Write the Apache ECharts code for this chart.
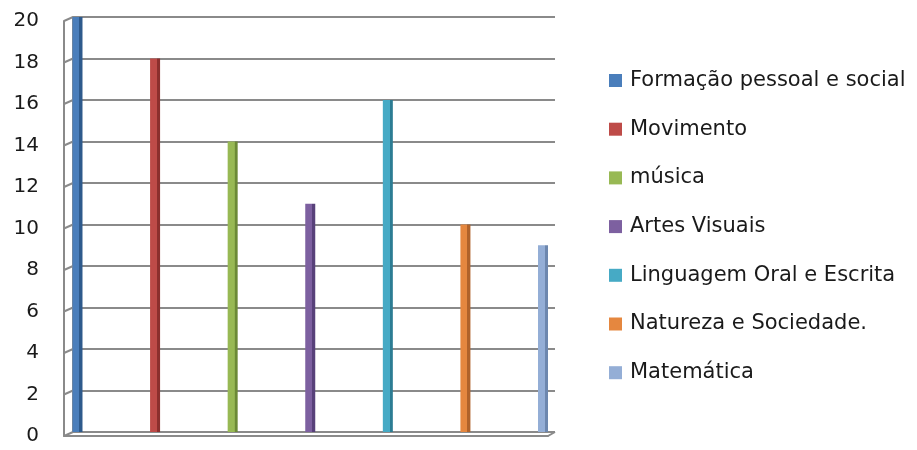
<!DOCTYPE html>
<html>
<head>
<meta charset="utf-8">
<script src="https://cdn.jsdelivr.net/npm/echarts@6/dist/echarts.min.js"></script>
<style>
  html, body { margin: 0; padding: 0; background: #fff; }
  #chart { width: 917px; height: 450px; }
</style>
</head>
<body>
<div id="chart"></div>
<script>
// Areas of learning and their counts
const categories = [
  'Formação pessoal e social',
  'Movimento',
  'música',
  'Artes Visuais',
  'Linguagem Oral e Escrita',
  'Natureza e Sociedade.',
  'Matemática'
];
const values = [20, 18, 14, 11, 16, 10, 9];
const yTicks = [0, 2, 4, 6, 8, 10, 12, 14, 16, 18, 20];

// face colour and shaded side colour for each bar
const faceColors = ['#4A7EBB', '#BE4B48', '#98B954', '#7D60A0', '#46AAC5', '#E5873F', '#94AED6'];
const sideColors = ['#2E5A8C', '#8C2F2D', '#6C8A36', '#58417A', '#2C7C93', '#B0622A', '#6D87AE'];

const FONT = '"DejaVu Sans", "Liberation Sans", sans-serif';
const Y_MIN = yTicks[0], Y_MAX = yTicks[yTicks.length - 1], Y_STEP = yTicks[1] - yTicks[0];

const chart = echarts.init(document.getElementById('chart'), null, { renderer: 'canvas' });

const series = categories.map((name, i) => ({
  name,
  type: 'bar',
  xAxisIndex: 0,
  yAxisIndex: 0,
  barWidth: 10,
  barGap: '-100%',
  data: categories.map((_, j) => (j === i ? values[i] : null)),
  itemStyle: {
    color: new echarts.graphic.LinearGradient(0, 0, 1, 0, [
      { offset: 0, color: faceColors[i] },
      { offset: 0.68, color: faceColors[i] },
      { offset: 0.7, color: sideColors[i] },
      { offset: 1, color: sideColors[i] }
    ])
  },
  emphasis: { disabled: true }
}));

chart.setOption({
  animation: false,
  backgroundColor: '#ffffff',
  legend: {
    orient: 'vertical',
    left: 609,
    top: 70,
    padding: 0,
    itemWidth: 13,
    itemHeight: 13,
    itemGap: 27.7,
    icon: 'rect',
    textStyle: { fontFamily: FONT, fontSize: 21, color: '#1a1a1a', lineHeight: 20, padding: [0, 0, 0, 3] },
    data: categories.map((name, i) => ({ name, itemStyle: { color: faceColors[i] } }))
  },
  grid: [
    // bars
    { left: 38.7, width: 543.1, top: 17, bottom: 18 },
    // back wall with gridlines
    { left: 73, right: 362, top: 17, bottom: 18 },
    // front plane: labels and front edges
    { left: 64, right: 369, top: 21, bottom: 14 }
  ],
  xAxis: [
    { gridIndex: 0, type: 'category', data: categories, show: false },
    { gridIndex: 1, type: 'category', data: categories, show: false },
    {
      gridIndex: 2, type: 'category', data: categories,
      axisLine: { show: true, lineStyle: { color: '#8a8a8a', width: 2 } },
      axisTick: { show: false }, axisLabel: { show: false }, splitLine: { show: false }
    }
  ],
  yAxis: [
    { gridIndex: 0, type: 'value', min: Y_MIN, max: Y_MAX, interval: Y_STEP, show: false },
    {
      gridIndex: 1, type: 'value', min: Y_MIN, max: Y_MAX, interval: Y_STEP,
      axisLine: { show: true, lineStyle: { color: '#8a8a8a', width: 2 } },
      axisTick: { show: false }, axisLabel: { show: false },
      splitLine: { show: true, lineStyle: { color: '#8a8a8a', width: 2 } },
      z: 0
    },
    {
      gridIndex: 2, type: 'value', min: Y_MIN, max: Y_MAX, interval: Y_STEP,
      axisLine: { show: true, lineStyle: { color: '#8a8a8a', width: 2 } },
      axisTick: { show: false },
      axisLabel: { show: true, margin: 25, fontFamily: FONT, fontSize: 20, color: '#1a1a1a' },
      splitLine: { show: false }
    }
  ],
  series
});

// perspective edges joining the front plane to the back wall
const backRect = chart.getModel().getComponent('grid', 1).coordinateSystem.getRect();
const frontRect = chart.getModel().getComponent('grid', 2).coordinateSystem.getRect();
const edgeStyle = { stroke: '#8a8a8a', lineWidth: 2 };
const edges = yTicks.map(v => {
  const back = chart.convertToPixel({ gridIndex: 1 }, [0, v]);
  const front = chart.convertToPixel({ gridIndex: 2 }, [0, v]);
  return {
    type: 'line', silent: true, z: 1,
    shape: { x1: frontRect.x, y1: front[1], x2: backRect.x, y2: back[1] },
    style: edgeStyle
  };
});
edges.push({
  type: 'line', silent: true, z: 1,
  shape: {
    x1: frontRect.x + frontRect.width, y1: frontRect.y + frontRect.height,
    x2: backRect.x + backRect.width, y2: backRect.y + backRect.height
  },
  style: edgeStyle
});
chart.setOption({ graphic: edges });
</script>
</body>
</html>
